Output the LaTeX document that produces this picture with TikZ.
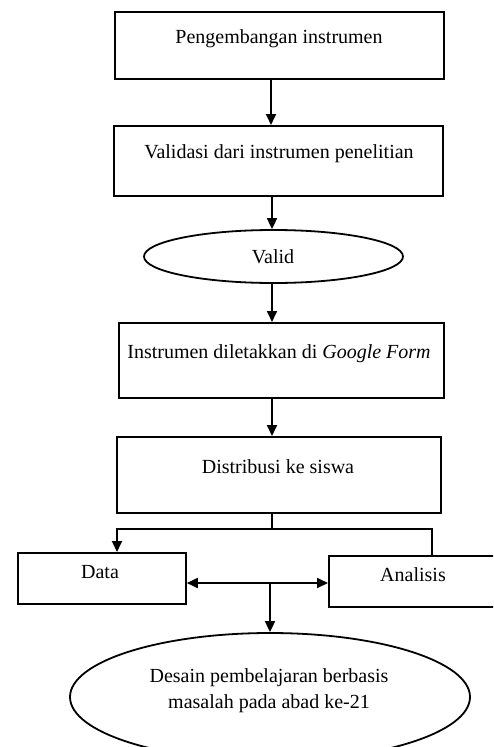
\documentclass[tikz,border=0pt]{standalone}
\usepackage{fontspec}
\setmainfont{Liberation Serif}
\usetikzlibrary{arrows.meta,shapes.geometric}

\tikzset{
  box/.style={draw, line width=1.8pt, rectangle, inner sep=0pt, anchor=north west},
  oval/.style={draw, line width=1.8pt, ellipse, inner sep=0pt},
  lbl/.style={anchor=base, inner sep=0pt, font=\fontsize{20}{26}\selectfont},
  link/.style={line width=1.8pt},
  arr/.style={link, -{Triangle[width=10pt,length=11pt]}},
  darr/.style={link, {Triangle[width=10pt,length=11pt]}-{Triangle[width=10pt,length=11pt]}}
}

\begin{document}
\begin{tikzpicture}[x=1pt, y=-1pt]
  \clip (0,0) rectangle (493,747);
  \fill[white] (0,0) rectangle (493,747);

  % boxes and ovals
  \node[box, minimum width=329pt, minimum height=67pt] (b1) at (114,11) {};
  \node[box, minimum width=329pt, minimum height=70pt] (b2) at (113,125) {};
  \node[oval, minimum width=259pt, minimum height=53pt] (valid) at (273.5,256.5) {};
  \node[box, minimum width=325pt, minimum height=75pt] (b3) at (118,322) {};
  \node[box, minimum width=324pt, minimum height=76pt] (b4) at (116,436) {};
  \node[box, minimum width=168pt, minimum height=51pt] (data) at (17,552) {};
  \node[box, minimum width=190pt, minimum height=51pt] (ana) at (328,555) {};
  \node[oval, minimum width=400pt, minimum height=128pt] (goal) at (270,697) {};

  % texts
  \node[lbl] (t1) at (279,43) {Pengembangan instrumen};
  \node[lbl] (t2) at (279,158) {Validasi dari instrumen penelitian};
  \node[lbl] (tv) at (273,263) {Valid};
  \node[lbl] (t3) at (279,358) {Instrumen diletakkan di \textit{Google Form}};
  \node[lbl] (t4) at (278,473) {Distribusi ke siswa};
  \node[lbl] (td) at (100,578) {Data};
  \node[lbl] (ta) at (413,581) {Analisis};
  \node[lbl] (tg1) at (269,682) {Desain pembelajaran berbasis};
  \node[lbl] (tg2) at (269,708) {masalah pada abad ke-21};

  % guide coordinates for the connectors
  \coordinate (c1) at (271,0);
  \coordinate (c2) at (272,0);
  \coordinate (sp) at (272,529);
  \coordinate (cd) at (117,0);
  \coordinate (ca) at (432,0);
  \coordinate (hy) at (0,583);
  \coordinate (mid) at (270,583);

  % connectors
  \draw[arr] (b1.south -| c1) -- (b2.north -| c1);
  \draw[arr] (b2.south -| c2) -- (valid.north -| c2);
  \draw[arr] (valid.south -| c2) -- (b3.north -| c2);
  \draw[arr] (b3.south -| c2) -- (b4.north -| c2);
  \draw[link] (b4.south -| sp) -- (sp);
  \draw[arr] (sp) -| (data.north -| cd);
  \draw[link] (sp) -| (ana.north -| ca);
  \draw[darr] (data.east |- hy) -- (ana.west |- hy);
  \draw[arr] (mid) -- (goal.north -| mid);
\end{tikzpicture}
\end{document}
